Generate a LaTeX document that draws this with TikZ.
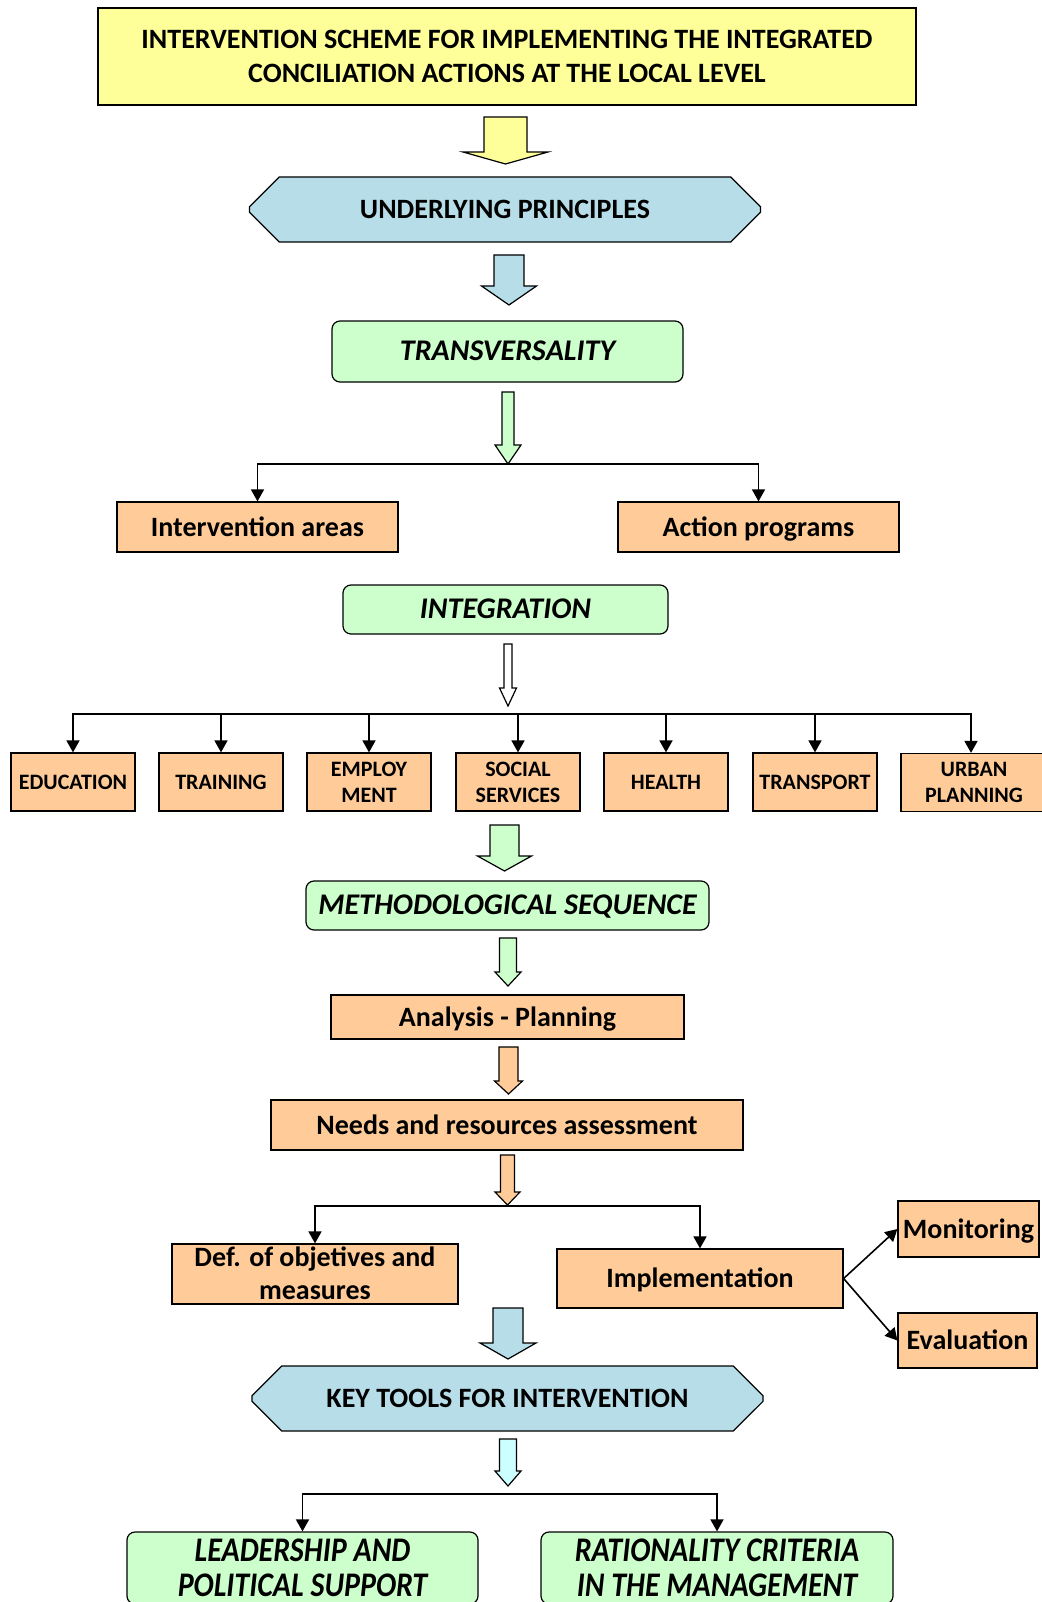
\documentclass[tikz,border=0pt]{standalone}
\usepackage{fontspec}
\setmainfont{Carlito}
\usepackage{xcolor}
\usepackage{graphicx}
\usetikzlibrary{arrows.meta,shapes.misc}

\definecolor{titleyellow}{HTML}{FFFF99}
\definecolor{principleblue}{HTML}{B7DEE8}
\definecolor{ideagreen}{HTML}{CCFFCC}
\definecolor{itemorange}{HTML}{FFCC99}
\definecolor{toolcyan}{HTML}{CCFFFF}

% fat hollow arrow: fill, x, top, head base, tip, half shaft, half head
\newcommand{\fatarrow}[7]{%
  \draw[line width=1.2pt, fill=#1] (#2-#6,#3) -- (#2+#6,#3) -- (#2+#6,#4) -- (#2+#7,#4)
    -- (#2,#5) -- (#2-#7,#4) -- (#2-#6,#4) -- cycle;}
% the two last boxes have a taller lettering
\newcommand{\tallline}[1]{\scalebox{1}[1.15]{#1}}

\begin{document}
\begin{tikzpicture}[
  x=1pt, y=-1pt,
  box/.style={draw, line width=1.2pt, align=center, inner sep=0pt, text depth=0.1em,
    font=\bfseries\fontsize{28}{33}\selectfont},
  titlebox/.style={box, fill=titleyellow, text depth=0pt,
    font=\bfseries\fontsize{28}{33.5}\selectfont},
  principle/.style={box, chamfered rectangle, chamfered rectangle xsep=20pt,
    chamfered rectangle ysep=20pt, fill=principleblue},
  idea/.style={box, rounded corners=8pt, fill=ideagreen,
    font=\bfseries\itshape\fontsize{30}{35}\selectfont},
  item/.style={box, fill=itemorange},
  area/.style={item, minimum width=124pt, minimum height=58pt, text depth=0pt,
    font=\bfseries\fontsize{22}{26}\selectfont},
  arrow/.style={-{Triangle[length=12pt,width=13pt]}, line width=1.6pt}
]
\useasboundingbox (0,0) rectangle (1041,1602);

\node[titlebox, minimum width=818pt, minimum height=97pt] (title) at (507,56.5)
  {INTERVENTION SCHEME FOR IMPLEMENTING THE INTEGRATED\\CONCILIATION ACTIONS AT THE LOCAL LEVEL};
\node[principle, minimum width=511pt, minimum height=65pt] (principles) at (505,209.5) {UNDERLYING PRINCIPLES};
\node[idea, minimum width=351pt, minimum height=61pt] (transv) at (507.5,351.5) {TRANSVERSALITY};
\node[item, minimum width=281pt, minimum height=50pt] (areas) at (257.5,527) {Intervention areas};
\node[item, minimum width=281pt, minimum height=50pt] (programs) at (758.5,527) {Action programs};
\node[idea, minimum width=325pt, minimum height=49pt] (integ) at (505.5,609.5) {INTEGRATION};

\node[area] (edu) at (73,782) {EDUCATION};
\node[area] (train) at (221,782) {TRAINING};
\node[area] (employ) at (369,782) {EMPLOY\\MENT};
\node[area] (social) at (518,782) {SOCIAL\\SERVICES};
\node[area] (health) at (666,782) {HEALTH};
\node[area] (transp) at (815,782) {TRANSPORT};
\node[area, minimum width=146pt] (urban) at (974,782.5) {URBAN\\PLANNING};

\node[idea, minimum width=403pt, minimum height=49pt] (method) at (507.5,905.5) {METHODOLOGICAL SEQUENCE};
\node[item, minimum width=353pt, minimum height=44pt] (analysis) at (507.5,1017) {Analysis - Planning};
\node[item, minimum width=472pt, minimum height=50pt] (needs) at (507,1125) {Needs and resources assessment};
\node[item, minimum width=286pt, minimum height=60pt] (objectives) at (315,1274) {Def. of objetives and\\measures};
\node[item, minimum width=286pt, minimum height=59pt] (impl) at (700,1278.5) {Implementation};
\node[item, minimum width=141pt, minimum height=56pt] (monit) at (968.5,1229) {Monitoring};
\node[item, minimum width=139pt, minimum height=55pt] (evalu) at (967.5,1340.5) {Evaluation};
\node[principle, minimum width=511pt, minimum height=65pt] (tools) at (507.5,1398.5) {KEY TOOLS FOR INTERVENTION};
\node[idea, minimum width=351pt, minimum height=72pt] (leader) at (302.5,1568)
  {\tallline{LEADERSHIP AND}\\\tallline{POLITICAL SUPPORT}};
\node[idea, minimum width=352pt, minimum height=72pt] (ration) at (717,1568)
  {\tallline{RATIONALITY CRITERIA}\\\tallline{IN THE MANAGEMENT}};

% fat arrows between the levels
\fatarrow{titleyellow}{505.5}{117}{152}{164}{21.5}{42.5}
\fatarrow{principleblue}{509}{255}{286}{305}{15}{27.5}
\fatarrow{ideagreen}{508}{392}{445}{464}{6}{13}
\fatarrow{white}{508}{644}{688}{706}{4}{8.5}
\fatarrow{ideagreen}{504.5}{825}{856}{871}{14.5}{27}
\fatarrow{ideagreen}{508}{938}{972}{986}{8.5}{13}
\fatarrow{itemorange}{508.5}{1047}{1081}{1094}{9.5}{14}
\fatarrow{itemorange}{507.5}{1155}{1192}{1205}{7}{12.5}
\fatarrow{principleblue}{508}{1308}{1343}{1359}{15}{28}
\fatarrow{toolcyan}{508}{1439}{1471}{1486}{8.5}{13}

% branching connectors
\coordinate (split1) at (508,464);
\draw[arrow] (split1) -| (areas);
\draw[arrow] (split1) -| (programs);
\coordinate (split2) at (508,714);
\foreach \n in {edu,train,employ,social,health,transp}
  \draw[arrow] (split2) -| (\n);
\draw[arrow] (split2) -| ([xshift=-3pt]urban.north);
\coordinate (split3) at (507.5,1206);
\draw[arrow] (split3) -| (objectives);
\draw[arrow] (split3) -| (impl);
\draw[arrow] (impl.east) -- (monit.west);
\draw[arrow] (impl.east) -- (evalu.west);
\coordinate (split4) at (508,1494);
\draw[arrow] (split4) -| (leader);
\draw[arrow] (split4) -| (ration);
\end{tikzpicture}
\end{document}
